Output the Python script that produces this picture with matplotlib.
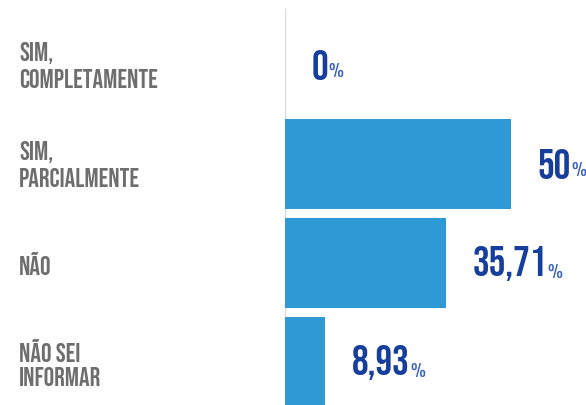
import matplotlib
matplotlib.use("Agg")
import matplotlib.pyplot as plt
from matplotlib.transforms import blended_transform_factory

# ------------------------------------------------------------
# Data
# ------------------------------------------------------------
categories = ["SIM,\nCOMPLETAMENTE", "SIM,\nPARCIALMENTE", "NÃO", "NÃO SEI\nINFORMAR"]
values = [0.0, 50.0, 35.71, 8.93]
value_labels = ["0", "50", "35,71", "8,93"]

BAR_COLOR = "#2f99d5"
VALUE_COLOR = "#163e9c"
PCT_COLOR = "#3a62bb"
LABEL_COLOR = "#6e6e6e"
FONT = ["Bebas Neue", "Oswald", "DejaVu Sans"]
PCT_FONT = ["Oswald", "Bebas Neue", "DejaVu Sans"]

fig = plt.figure(figsize=(5.86, 4.05), dpi=100)
ax = fig.add_axes([285 / 586, 0, 301 / 586, 1])

positions = list(range(len(values)))
ax.barh(positions, values, height=0.9, color=BAR_COLOR, zorder=2)

ax.set_xlim(0, 66.6)
ax.set_ylim(3.434, -0.657)
ax.axis("off")

# thin grey baseline on the left of the bars
ax.axvline(0, ymin=0.185, ymax=0.975, color="#dadada", lw=1.6, zorder=1)

# category labels in figure x, data y
label_tf = blended_transform_factory(fig.transFigure, ax.transData)
for pos, label in zip(positions, categories):
    ax.text(19 / 586, pos, label, transform=label_tf, ha="left", va="center",
            fontsize=19, color=LABEL_COLOR, family=FONT,
            linespacing=1.25, clip_on=False)

# value labels: number plus a smaller percent sign
for pos, val, txt in zip(positions, values, value_labels):
    num = ax.annotate(txt, xy=(val, pos), xytext=(19, 0), textcoords="offset points",
                      ha="left", va="center", fontsize=30,
                      color=VALUE_COLOR, family=FONT, annotation_clip=False)
    ax.annotate("%", xy=(1, 0.0), xycoords=num, xytext=(0.5, 0),
                textcoords="offset points", ha="left", va="bottom",
                fontsize=12, fontweight="light", color=PCT_COLOR,
                family=PCT_FONT, annotation_clip=False)

fig.savefig("out.png", dpi=100)
